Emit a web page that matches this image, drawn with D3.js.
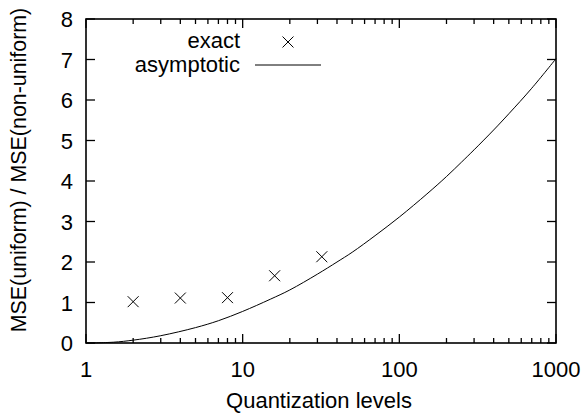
<!DOCTYPE html>
<html lang="en">
<head>
<meta charset="UTF-8">
<title>MSE ratio</title>
<script src="https://d3js.org/d3.v7.min.js"></script>
<style>
  body { margin: 0; background: #fff; }
  text { font-family: "Liberation Sans", Arial, sans-serif; fill: #000; }
</style>
</head>
<body>
<div id="chart"></div>
<script>
// exact ratios at powers of two
const exactLevels = [2, 4, 8, 16, 32];
const exactRatio = [1.02, 1.11, 1.12, 1.66, 2.13];

// asymptotic curve
const asymLevels = [1, 1.5, 2, 3, 5, 7, 10, 15, 20, 30, 40, 50, 70, 100, 150, 200, 250, 300, 400, 500, 700, 1000];
const asymRatio = [0, 0.02, 0.07, 0.18, 0.38, 0.55, 0.78, 1.08, 1.31, 1.70, 2.00, 2.24, 2.65, 3.11, 3.68, 4.11, 4.47, 4.77, 5.26, 5.66, 6.29, 7.02];

const xTicks = [1, 10, 100, 1000];
const yTicks = [0, 1, 2, 3, 4, 5, 6, 7, 8];

const W = 587, H = 415;
const margin = {top: 19, right: 31, bottom: 72, left: 86};
const width = W - margin.left - margin.right,
      height = H - margin.top - margin.bottom;
const fs = 22;

const svg = d3.select("#chart").append("svg")
    .attr("width", W).attr("height", H);
const g = svg.append("g")
    .attr("transform", `translate(${margin.left},${margin.top})`);

const x = d3.scaleLog().domain([1, 1000]).range([0, width]);
const y = d3.scaleLinear().domain([0, 8]).range([height, 0]);

// minor ticks for the log axis
const minor = [];
for (let d = 1; d < 1000; d *= 10)
  for (let k = 2; k <= 9; k++) minor.push(d * k);

function ticks(sel) {
  sel.attr("stroke", "#000").attr("stroke-width", 1.3);
}

// x ticks, bottom and top (inward)
g.selectAll(".xmaj").data(xTicks).enter().append("line")
  .attr("x1", d => x(d)).attr("x2", d => x(d))
  .attr("y1", height).attr("y2", height - 9).call(ticks);
g.selectAll(".xmajt").data(xTicks).enter().append("line")
  .attr("x1", d => x(d)).attr("x2", d => x(d))
  .attr("y1", 0).attr("y2", 9).call(ticks);
g.selectAll(".xmin").data(minor).enter().append("line")
  .attr("x1", d => x(d)).attr("x2", d => x(d))
  .attr("y1", height).attr("y2", height - 5).call(ticks);
g.selectAll(".xmint").data(minor).enter().append("line")
  .attr("x1", d => x(d)).attr("x2", d => x(d))
  .attr("y1", 0).attr("y2", 5).call(ticks);

// y ticks, left and right
g.selectAll(".yl").data(yTicks).enter().append("line")
  .attr("x1", 0).attr("x2", 9)
  .attr("y1", d => y(d)).attr("y2", d => y(d)).call(ticks);
g.selectAll(".yr").data(yTicks).enter().append("line")
  .attr("x1", width).attr("x2", width - 9)
  .attr("y1", d => y(d)).attr("y2", d => y(d)).call(ticks);

// tick labels
g.selectAll(".xl").data(xTicks).enter().append("text")
  .attr("x", d => x(d)).attr("y", height + 34)
  .attr("text-anchor", "middle").attr("font-size", fs)
  .text(d => d);
g.selectAll(".ylab").data(yTicks).enter().append("text")
  .attr("x", -13).attr("y", d => y(d) + 8)
  .attr("text-anchor", "end").attr("font-size", fs)
  .text(d => d);

// frame
g.append("rect")
  .attr("width", width).attr("height", height)
  .attr("fill", "none").attr("stroke", "#000").attr("stroke-width", 1.6);

// asymptotic curve
const asym = asymLevels.map((n, i) => ({n: n, r: asymRatio[i]}));
const line = d3.line()
  .x(d => x(d.n)).y(d => y(d.r))
  .curve(d3.curveCatmullRom);
g.append("path").datum(asym)
  .attr("d", line)
  .attr("fill", "none").attr("stroke", "#000").attr("stroke-width", 1);

// exact markers
const cross = d3.symbol().type(d3.symbolX).size(80);
g.selectAll(".pt").data(exactLevels).enter().append("path")
  .attr("transform", (d, i) => `translate(${x(d)},${y(exactRatio[i])})`)
  .attr("d", cross)
  .attr("fill", "none").attr("stroke", "#000").attr("stroke-width", 1);

// legend
const leg = g.append("g");
leg.append("text").attr("x", 154).attr("y", 29)
  .attr("text-anchor", "end").attr("font-size", fs).text("exact");
leg.append("path").attr("transform", "translate(202,23)")
  .attr("d", cross).attr("fill", "none").attr("stroke", "#000");
leg.append("text").attr("x", 154).attr("y", 53)
  .attr("text-anchor", "end").attr("font-size", fs).text("asymptotic");
leg.append("line").attr("x1", 169).attr("x2", 235)
  .attr("y1", 46).attr("y2", 46)
  .attr("stroke", "#000").attr("stroke-width", 1);

// axis titles
svg.append("text")
  .attr("x", margin.left + width / 2 - 2).attr("y", 408)
  .attr("text-anchor", "middle").attr("font-size", fs)
  .text("Quantization levels");
svg.append("text")
  .attr("transform", "translate(26,170) rotate(-90)")
  .attr("text-anchor", "middle").attr("font-size", 21.4)
  .text("MSE(uniform) / MSE(non-uniform)");
</script>
</body>
</html>
